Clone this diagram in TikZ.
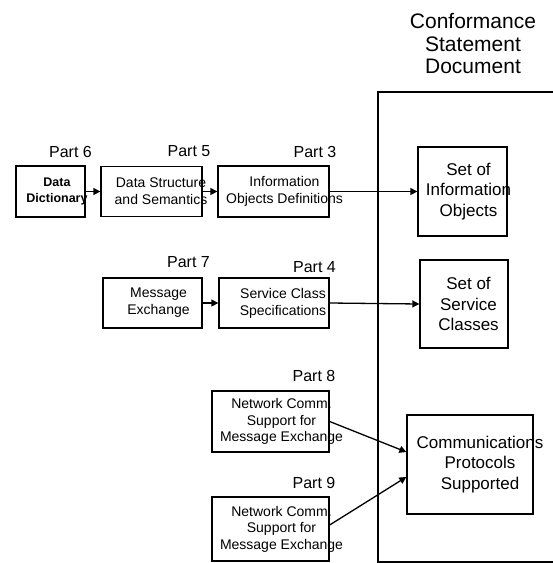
\documentclass[tikz,border=0pt]{standalone}
\usepackage{fontspec}
\setmainfont{Liberation Sans}
\usetikzlibrary{arrows.meta,calc}
\tikzset{
  box/.style={draw,line width=1.3pt,inner sep=0pt},
  txt/.style={inner sep=0pt,align=center,font=\fontsize{14}{17}\selectfont},
  bigtxt/.style={inner sep=0pt,align=center,font=\fontsize{17}{20.5}\selectfont},
  partlbl/.style={inner sep=0pt,font=\fontsize{16}{18}\selectfont},
  conn/.style={line width=1.3pt,-{Triangle[length=7pt,width=7pt]}},
  frame/.style={line width=1.3pt}
}
\begin{document}
\begin{tikzpicture}[x=1pt,y=-1pt]
\useasboundingbox (0,0) rectangle (553,563);
% header
\node[align=center,inner sep=0pt,font=\fontsize{21}{22.5}\selectfont] (hdr) at (473,44) {Conformance\\Statement\\Document};
% document frame
\draw[frame] (553,92) -- (378,92) -- (378,562) -- (553,562);
% row 1
\node[box,minimum width=69pt,minimum height=51pt] (dd) at (50.5,191.5) {};
\node[txt,font=\bfseries\fontsize{12.5}{16}\selectfont] (ddt) at ($(dd.center)+(6.5,0)$) {Data\\Dictionary};
\node[box,minimum width=101pt,minimum height=50pt] (dss) at (151.5,191.5) {};
\node[txt] (dsst) at ($(dss.center)+(9.5,0)$) {Data Structure\\and Semantics};
\node[box,minimum width=111pt,minimum height=51pt] (iod) at (273.5,191.5) {};
\node[txt] (iodt) at ($(iod.center)+(11,0)$) {Information\\Objects Definitions};
\node[box,minimum width=89pt,minimum height=89pt] (sio) at (462.5,191.5) {};
\node[bigtxt] (siot) at ($(sio.center)+(6,0)$) {Set of\\Information\\Objects};
\node[partlbl] (p6) at (70.5,151.5) {Part 6};
\node[partlbl] (p5) at (189,151.5) {Part 5};
\node[partlbl] (p3) at (315,151.5) {Part 3};
% row 2
\node[box,minimum width=99pt,minimum height=50pt] (me) at (152.5,303) {};
\node[txt] (met) at ($(me.center)+(6,0)$) {Message\\Exchange};
\node[box,minimum width=110pt,minimum height=50pt] (scs) at (274,303) {};
\node[txt] (scst) at ($(scs.center)+(9,0)$) {Service Class\\Specifications};
\node[box,minimum width=88pt,minimum height=88pt] (ssc) at (464,304) {};
\node[bigtxt] (ssct) at ($(ssc.center)+(4.5,0)$) {Set of\\Service\\Classes};
\node[partlbl] (p7) at (188.5,262.5) {Part 7};
\node[partlbl] (p4) at (314.5,267) {Part 4};
% row 3
\node[box,minimum width=117pt,minimum height=61pt] (n8) at (270.5,421.5) {};
\node[txt,font=\fontsize{14}{16.5}\selectfont] (n8t) at ($(n8.center)+(11,0)$) {Network Comm.\\Support for\\Message Exchange};
\node[box,minimum width=117pt,minimum height=64pt] (n9) at (270.5,529) {};
\node[txt,font=\fontsize{14}{16.5}\selectfont] (n9t) at ($(n9.center)+(11,0)$) {Network Comm.\\Support for\\Message Exchange};
\node[box,minimum width=126pt,minimum height=99pt] (cps) at (470,464.5) {};
\node[bigtxt] (cpst) at ($(cps.center)+(10,0)$) {Communications\\Protocols\\Supported};
\node[partlbl] (p8) at (314,375.5) {Part 8};
\node[partlbl] (p9) at (314,482.5) {Part 9};
% connectors
\draw[conn] (dd.east) -- (dss.west);
\draw[conn] (dss.east) -- (iod.west);
\draw[conn] (iod.east) -- (sio.west);
\draw[conn] (me.east) -- (scs.west);
\draw[conn] (scs.east) -- (ssc.west);
\draw[conn] (n8.east) -- ($(cps.west)+(0,-12.5)$);
\draw[conn] ($(n9.east)+(0,-4)$) -- ($(cps.west)+(0,12.5)$);
\end{tikzpicture}
\end{document}
